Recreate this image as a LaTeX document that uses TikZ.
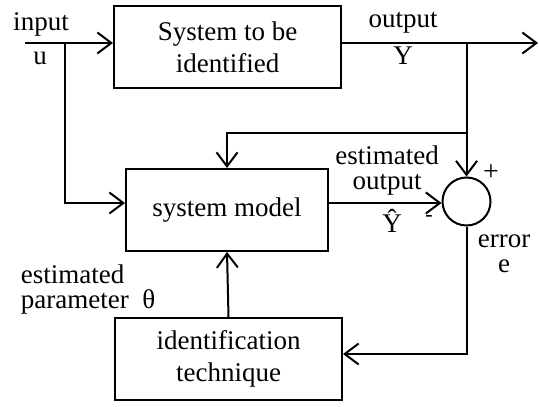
\documentclass[tikz,border=0pt]{standalone}
\usepackage{fontspec}
\setmainfont{Liberation Serif}
\usetikzlibrary{arrows.meta,positioning,calc}

\begin{document}
\begin{tikzpicture}[x=0.5pt,y=-0.5pt,line width=1pt,>={Straight Barb[length=7pt,width=10.5pt,line width=1pt]}]
		\tikzstyle{blk}=[draw, rectangle, align=center, font=\fontsize{13.5}{16}\selectfont, line width=1pt];
		\tikzstyle{lbl}=[align=center, font=\fontsize{13.5}{12.5}\selectfont, inner sep=0pt];
		\tikzstyle{sgn}=[inner sep=0pt];

		\useasboundingbox (0,0) rectangle (539,406);

		\node[blk, minimum width=113.5pt, minimum height=41pt] (sys_box) at (227.5,47) {System to be\\identified};
		\node[blk, minimum width=101pt, minimum height=41pt] (model_box) at (227,210) {system model};
		\node[blk, minimum width=113.5pt, minimum height=41pt] (id_box) at (228.5,359) {identification\\technique};
		\node[draw, circle, minimum size=24pt, inner sep=0pt, line width=1pt] (sum_circ) at (466.5,201.5) {};

		\coordinate (in_start) at (25,43);
		\coordinate (br_u) at (65,43);
		\coordinate (out_end) at (538,43);
		\coordinate (br_y) at (466.5,43);
		\coordinate (fb_y) at (466.5,133);
		\coordinate (err_c) at (466.5,354);

		% input and output
		\draw[->] (in_start) -- (in_start -| sys_box.west);
		\draw[->] (sys_box.east |- out_end) -- (out_end);
		\draw[->] (br_u) |- ($(model_box.west)+(0,-7)$);
		\draw[->] (br_y) -- (sum_circ.north);
		\draw[->] (fb_y) -| (model_box.north);

		% model output, error and parameter
		\draw[->] ($(model_box.east)+(0,-7)$) -- (sum_circ.west |- {$(model_box.east)+(0,-7)$});
		\draw[->] (sum_circ.south) -- (err_c) -- (err_c -| id_box.east);
		\draw[->] (id_box.north) -- (model_box.south);

		\node[lbl] (l_in) at (41,24) {input};
		\node[lbl] (l_u) at (40,58) {u};
		\node[lbl] (l_out) at (403,23) {output};
		\node[lbl] (l_y) at (403,56) {Y};
		\node[lbl] (l_est) at (387,171) {estimated\\output};
		\node[lbl] (l_yh) at (392,221) {\^{Y}};
		\node[sgn, font=\fontsize{11}{11}\selectfont] (l_minus) at (429,218) {-};
		\node[sgn, font=\fontsize{14}{14}\selectfont] (l_plus) at (491,173) {+};
		\node[lbl] (l_err) at (504,254) {error\\e};
		\node[lbl, align=left, font=\fontsize{13.5}{12.5}\selectfont] (l_par) at (88,290) {estimated\\parameter\ \ θ};
\end{tikzpicture}
\end{document}
